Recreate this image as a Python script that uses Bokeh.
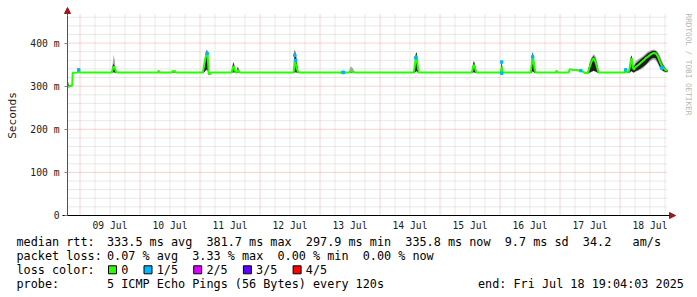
import math
from bokeh.plotting import figure
from bokeh.models import Range1d, FixedTicker, Arrow, NormalHead
from bokeh.embed import file_html
from bokeh.resources import INLINE
from bokeh.core.properties import value

MONO = "DejaVu Sans Mono"

# ---- data (x = hours since 2025-07-08 00:00, y = milliseconds) ----
t_hours = [19.08, 19.48, 20.68, 20.88, 21.08, 23.08, 23.48, 23.88,
           36.68, 37.08, 37.48, 37.88, 38.28, 38.68,
           55.08, 55.48, 55.88, 60.68, 61.08, 61.48, 61.88, 62.28,
           73.08, 73.48, 73.88, 74.28, 74.68, 75.08, 75.48, 75.88, 76.28, 76.68,
           84.68, 85.08, 85.48, 85.88, 86.28, 86.68, 87.08, 87.48, 87.88,
           109.48, 109.88, 110.28, 110.68, 111.08, 111.48,
           131.48, 132.28, 133.08, 133.88,
           157.48, 157.88, 158.28, 158.68, 159.08, 159.48,
           180.68, 181.08, 181.48, 181.88, 182.28, 182.68,
           192.28, 192.68, 193.08,
           204.28, 204.68, 205.08, 205.48, 205.88, 206.28,
           214.28, 214.68, 215.08,
           219.48, 219.88, 222.68, 224.68, 225.88, 227.08, 227.88, 228.68, 229.48, 230.28, 231.08, 231.48,
           241.88, 242.28, 242.68, 243.48, 243.88, 244.28, 244.68, 245.08, 245.48, 246.28, 247.08,
           247.88, 248.68, 249.48, 250.28, 251.08, 251.88, 252.68, 253.48, 254.28, 255.08, 255.88,
           256.68, 257.48, 258.28, 259.0]
median_ms = [300, 299, 301, 302, 331, 332, 337, 332,
             332, 340, 346, 341, 336, 332,
             332, 336, 332, 332, 335, 333, 336, 332,
             332, 342, 356, 368, 378, 372, 328, 328, 330, 332,
             332, 342, 347, 338, 332, 332, 338, 335, 332,
             332, 360, 352, 342, 334, 332,
             332, 334, 333, 332,
             332, 345, 365, 371, 345, 332,
             332, 340, 350, 345, 336, 332,
             332, 345, 332,
             332, 350, 372, 355, 338, 332,
             332, 336, 332,
             332, 339, 337, 336, 331, 330, 345, 358, 365, 355, 338, 332,
             332, 338, 332, 334, 342, 358, 365, 345, 338, 345, 348,
             352, 356, 360, 365, 368, 372, 375, 377, 376, 370, 358,
             348, 342, 337, 336]
smoke_lo_ms = [297, 297, 299, 300, 330, 331, 331, 331,
               331, 331, 332, 331, 331, 331,
               331, 331, 331, 331, 331, 331, 331, 331,
               331, 331, 333, 335, 337, 335, 325, 326, 329, 331,
               331, 331, 332, 331, 331, 331, 331, 331, 331,
               331, 331, 332, 331, 331, 331,
               331, 331, 331, 331,
               331, 331, 333, 334, 331, 331,
               331, 331, 332, 331, 331, 331,
               331, 329, 331,
               331, 331, 334, 332, 331, 331,
               331, 331, 331,
               331, 338, 336, 335, 330, 328, 331, 333, 335, 333, 331, 331,
               331, 331, 331, 331, 331, 333, 334, 332, 331, 333, 335,
               337, 340, 343, 348, 352, 356, 360, 362, 360, 352, 342,
               336, 333, 332, 332]
smoke_hi_ms = [316, 303, 304, 306, 333, 333, 344, 333,
               333, 352, 373, 360, 342, 333,
               333, 339, 333, 333, 338, 334, 339, 333,
               333, 350, 363, 376, 386, 382, 345, 331, 332, 333,
               333, 352, 357, 345, 333, 333, 346, 342, 333,
               333, 386, 378, 370, 345, 333,
               333, 346, 342, 333,
               333, 352, 376, 380, 360, 333,
               333, 347, 360, 355, 342, 333,
               333, 358, 333,
               333, 362, 381, 370, 348, 333,
               333, 338, 333,
               333, 341, 339, 337, 333, 334, 356, 368, 374, 369, 350, 333,
               333, 341, 333, 336, 352, 368, 372, 360, 348, 358, 362,
               365, 368, 372, 376, 380, 382, 384, 385, 384, 380, 372,
               360, 350, 342, 338]
core_lo_ms = [298, 298, 300, 301, 330, 331, 332, 331,
              331, 332, 333, 332, 331, 331,
              331, 332, 331, 331, 332, 331, 332, 331,
              331, 332, 334, 337, 339, 337, 326, 327, 329, 331,
              331, 332, 333, 332, 331, 331, 332, 332, 331,
              331, 332, 333, 332, 331, 331,
              331, 331, 331, 331,
              331, 332, 334, 335, 332, 331,
              331, 332, 333, 332, 331, 331,
              331, 329, 331,
              331, 332, 335, 333, 331, 331,
              331, 332, 331,
              331, 338, 336, 335, 330, 329, 332, 334, 336, 334, 331, 331,
              331, 332, 331, 332, 332, 334, 335, 333, 332, 335, 337,
              340, 343, 346, 350, 355, 360, 364, 366, 365, 356, 346,
              338, 335, 333, 333]
core_hi_ms = [313, 301, 303, 304, 333, 333, 342, 333,
              333, 347, 352, 345, 339, 333,
              333, 337, 333, 333, 336, 334, 337, 333,
              333, 346, 360, 372, 383, 378, 335, 330, 331, 333,
              333, 348, 355, 342, 333, 333, 344, 339, 333,
              333, 385, 372, 355, 340, 333,
              333, 336, 334, 333,
              333, 350, 374, 378, 352, 333,
              333, 345, 357, 352, 340, 333,
              333, 357, 333,
              333, 358, 379, 365, 344, 333,
              333, 337, 333,
              333, 340, 338, 337, 332, 333, 352, 364, 370, 362, 345, 333,
              333, 340, 333, 335, 348, 366, 371, 352, 344, 352, 356,
              360, 364, 368, 372, 376, 379, 381, 382, 381, 376, 366,
              355, 347, 340, 337]
loss_t = [23.48, 74.88, 109.88, 110.28, 129.08, 129.48, 158.28, 192.68, 192.68, 205.08, 224.28, 242.28, 256.68]
loss_ms = [338, 376, 372, 360, 332, 332, 366, 356, 330, 368, 336, 338, 342]

day_labels = ["09 Jul", "10 Jul", "11 Jul", "12 Jul", "13 Jul",
              "14 Jul", "15 Jul", "16 Jul", "17 Jul", "18 Jul"]
y_ticks = [0, 100, 200, 300, 400]
y_tick_labels = ["0", "100 m", "200 m", "300 m", "400 m"]

legend_rows = ["median rtt:", "packet loss:", "loss color:", "probe:"]
legend_values = [
    "333.5 ms avg  381.7 ms max  297.9 ms min  335.8 ms now  9.7 ms sd  34.2   am/s",
    "0.07 % avg  3.33 % max  0.00 % min  0.00 % now",
    "",
    "5 ICMP Echo Pings (56 Bytes) every 120s",
]
end_text = "end: Fri Jul 18 19:04:03 2025"
loss_names = ["0", "1/5", "2/5", "3/5", "4/5"]
loss_colors = ["#26ff00", "#00b8ff", "#dd00ff", "#5e00ff", "#ff0000"]
watermark = "RRDTOOL / TOBI OETIKER"

# ---- geometry: graph area is 600 x 200 px, left edge at px 67, zero line at px 215 ----
X0, X1 = 19.0, 259.0
YMAX = 464
W, H = 697, 297
PLOT_L, PLOT_B = 67, 215
PX_PER_H = 600 / (X1 - X0)
PX_PER_MS = 200 / YMAX


def hx(px):
    return X0 + (px - PLOT_L) / PX_PER_H


def my(py):
    return (PLOT_B - py) / PX_PER_MS


def nb(s):
    return s.replace(" ", "\u00a0")


p = figure(width=W, height=H, x_range=Range1d(hx(0), hx(W)), y_range=Range1d(my(H), my(0)),
           output_backend="svg", toolbar_location=None,
           min_border=0, min_border_left=0, min_border_right=0, min_border_top=0, min_border_bottom=0)
p.outline_line_color = None
p.background_fill_color = "white"
p.border_fill_color = "white"
p.grid.visible = False

# ---- grid (dotted, limited to the graph area) ----
GRID_TOP = my(13)
midnights = [24 * d for d in range(1, 11)]
six_hours = [h for h in range(24, 259, 6) if h % 24 != 0]
y_minor = [v for v in range(20, 470, 20) if v % 100 != 0]
minor_col = "#d2d2d2"
major_col = "#f2a4a4"
p.segment(x0=six_hours, y0=[0] * len(six_hours), x1=six_hours, y1=[GRID_TOP] * len(six_hours),
          line_color=minor_col, line_width=1, line_dash="1 1")
p.segment(x0=[X0] * len(y_minor), y0=y_minor, x1=[X1] * len(y_minor), y1=y_minor,
          line_color=minor_col, line_width=1, line_dash="1 1")
p.segment(x0=midnights, y0=[0] * len(midnights), x1=midnights, y1=[GRID_TOP] * len(midnights),
          line_color=major_col, line_width=1, line_dash="1 1")
p.segment(x0=[X0] * 4, y0=y_ticks[1:], x1=[X1] * 4, y1=y_ticks[1:],
          line_color=major_col, line_width=1, line_dash="1 1")

# ---- axes (library axes placed at fixed positions) ----
noons = [24 * (d + 1) + 12 for d in range(len(day_labels))]
p.xaxis.fixed_location = 0
p.xaxis.bounds = (hx(62), X1 + 1)
p.xaxis.ticker = FixedTicker(ticks=noons)
p.xaxis.major_label_overrides = {t: lab for t, lab in zip(noons, day_labels)}
p.xaxis.major_tick_line_color = None
p.xaxis.major_tick_out = 0
p.xaxis.major_tick_in = 0
p.xaxis.minor_tick_line_color = None
p.xaxis.major_label_standoff = 4
p.xaxis.axis_line_color = "black"
p.xaxis.major_label_text_font = MONO
p.xaxis.major_label_text_font_size = "9.7px"
p.xaxis.major_label_text_color = "#202020"

p.yaxis.fixed_location = X0
p.yaxis.bounds = (0, YMAX)
p.yaxis.ticker = FixedTicker(ticks=y_ticks)
p.yaxis.major_label_overrides = {t: lab for t, lab in zip(y_ticks, y_tick_labels)}
p.yaxis.major_tick_out = 3
p.yaxis.major_tick_in = 0
p.yaxis.major_tick_line_color = "#808080"
p.yaxis.minor_tick_line_color = None
p.yaxis.major_label_standoff = 5
p.yaxis.axis_line_color = "#505050"
p.yaxis.major_label_text_font = MONO
p.yaxis.major_label_text_font_size = "9.7px"
p.yaxis.major_label_text_color = "#202020"
p.yaxis.axis_label = "Seconds"
p.yaxis.axis_label_text_font = MONO
p.yaxis.axis_label_text_font_size = "11.1px"
p.yaxis.axis_label_text_font_style = "normal"
p.yaxis.axis_label_text_color = "#202020"
p.yaxis.axis_label_standoff = 8

# ---- smoke and median ----
p.varea(x=t_hours, y1=smoke_lo_ms, y2=smoke_hi_ms, fill_color="#a8a8a8")
p.varea(x=t_hours, y1=core_lo_ms, y2=core_hi_ms, fill_color="#1c1c1c")
p.line(x=t_hours, y=median_ms, line_color=loss_colors[0], line_width=2)
p.scatter(x=loss_t, y=loss_ms, marker="square", size=2.5, color=loss_colors[1])

# ---- axis arrows ----
arrow_red = "#a01818"
p.add_layout(Arrow(end=NormalHead(size=6, fill_color=arrow_red, line_color=arrow_red),
                   x_start=X1, y_start=0, x_end=hx(675), y_end=0, line_color="black"))
p.add_layout(Arrow(end=NormalHead(size=6, fill_color=arrow_red, line_color=arrow_red),
                   x_start=X0, y_start=YMAX, x_end=X0, y_end=my(7), line_color="#505050"))

# ---- watermark ----
p.text(x=[hx(688)], y=[my(13)], text=[watermark], angle=-math.pi / 2,
       text_font=value(MONO), text_font_size="7.7px", text_color="#b4b4b4",
       text_align="left", text_baseline="middle")

# ---- legend text below the graph ----
row_py = [241.7, 255.0, 269.3, 283.3]
row_y = [my(v) for v in row_py]
fs = "11.8px"
cw = 7.1
col0 = 106.5
p.text(x=[hx(16)] * 4, y=row_y, text=[nb(s) for s in legend_rows], text_font=value(MONO),
       text_font_size=fs, text_color="black", text_baseline="middle")
p.text(x=[hx(col0)] * 4, y=row_y, text=[nb(s) for s in legend_values], text_font=value(MONO),
       text_font_size=fs, text_color="black", text_baseline="middle")
p.text(x=[hx(477.5)], y=[row_y[3]], text=[nb(end_text)], text_font=value(MONO),
       text_font_size=fs, text_color="black", text_baseline="middle")

sq_cols = [0, 5, 12, 19, 26]
sq_x = [hx(col0 + k * cw + 5.5) for k in sq_cols]
lab_x = [hx(col0 + (k + 2) * cw) for k in sq_cols]
p.rect(x=sq_x, y=[row_y[2]] * 5, width=8, height=8, width_units="screen", height_units="screen",
       fill_color=loss_colors, line_color="black")
p.text(x=lab_x, y=[row_y[2]] * 5, text=loss_names, text_font=value(MONO), text_font_size=fs,
       text_color="black", text_baseline="middle")

open("out.html", "w").write(file_html(p, INLINE))
